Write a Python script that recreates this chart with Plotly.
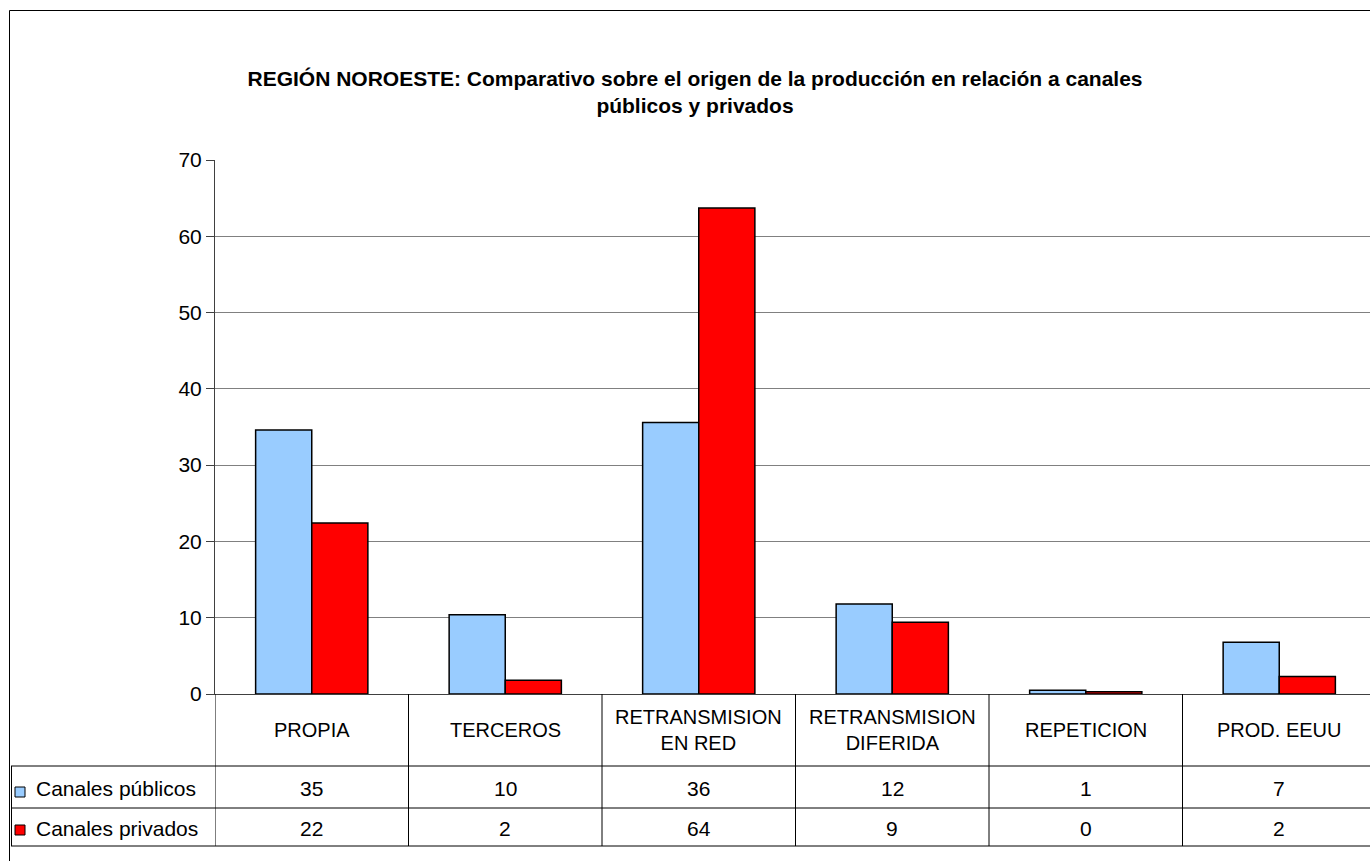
import plotly.graph_objects as go

# ---- data ----
categories = ["PROPIA", "TERCEROS", "RETRANSMISION<br>EN RED",
              "RETRANSMISION<br>DIFERIDA", "REPETICION", "PROD. EEUU"]
series_names = ["Canales públicos", "Canales privados"]
publicos = [34.6, 10.4, 35.6, 11.8, 0.5, 6.8]
privados = [22.4, 1.8, 63.7, 9.4, 0.3, 2.3]
tabla_publicos = ["35", "10", "36", "12", "1", "7"]
tabla_privados = ["22", "2", "64", "9", "0", "2"]
y_ticks = [0, 10, 20, 30, 40, 50, 60, 70]

title_text = ("<b>REGIÓN NOROESTE: Comparativo sobre el origen de la producción en relación a canales"
              "<br>públicos y privados</b>")

W, H = 1370, 861
L, R, T, B = 215, 0, 160, 167
plot_w = W - L - R
plot_h = H - T - B
cat_w = 193.5  # px per category

def xp(px):
    return (px - L) / plot_w

def yp(py):
    return (H - B - py) / plot_h

FONT = "Liberation Sans, Arial, sans-serif"
BLUE = "#99CCFF"
RED = "#FF0000"
LINE = "#000000"

fig = go.Figure()
fig.add_trace(go.Bar(x=categories, y=publicos, name=series_names[0],
                     marker=dict(color=BLUE, line=dict(color=LINE, width=1.5))))
fig.add_trace(go.Bar(x=categories, y=privados, name=series_names[1],
                     marker=dict(color=RED, line=dict(color=LINE, width=1.5))))

n = len(categories)
x_end = -0.5 + plot_w / cat_w

shapes = []
# chart border
shapes.append(dict(type="rect", xref="paper", yref="paper",
                   x0=xp(9.5), x1=xp(1400), y0=yp(10.5), y1=yp(900),
                   line=dict(color=LINE, width=1), layer="below"))
# table horizontal lines
for py in [766, 808, 846]:
    shapes.append(dict(type="line", xref="paper", yref="paper",
                       x0=xp(11), x1=xp(1400), y0=yp(py), y1=yp(py),
                       line=dict(color=LINE, width=1)))
# table left border
shapes.append(dict(type="line", xref="paper", yref="paper",
                   x0=xp(11.5), x1=xp(11.5), y0=yp(766), y1=yp(846),
                   line=dict(color=LINE, width=1)))
# category dividers
for i in range(n + 1):
    shapes.append(dict(type="line", xref="x", yref="paper",
                       x0=i - 0.5, x1=i - 0.5, y0=yp(694), y1=yp(846),
                       line=dict(color=LINE, width=1)))
# legend keys
for (py0, py1, col) in [(787, 797, BLUE), (825, 835, RED)]:
    shapes.append(dict(type="rect", xref="paper", yref="paper",
                       x0=xp(15), x1=xp(25), y0=yp(py1), y1=yp(py0),
                       fillcolor=col, line=dict(color=LINE, width=1)))

annotations = []
for i, c in enumerate(categories):
    annotations.append(dict(x=c, xref="x", y=yp(730), yref="paper",
                            text=c, showarrow=False, xanchor="center", yanchor="middle",
                            font=dict(family=FONT, size=20, color="#000000")))
    annotations.append(dict(x=c, xref="x", y=yp(788), yref="paper",
                            text=tabla_publicos[i], showarrow=False, xanchor="center",
                            yanchor="middle", font=dict(family=FONT, size=21, color="#000000")))
    annotations.append(dict(x=c, xref="x", y=yp(828), yref="paper",
                            text=tabla_privados[i], showarrow=False, xanchor="center",
                            yanchor="middle", font=dict(family=FONT, size=21, color="#000000")))
for name, py in zip(series_names, [788, 828]):
    annotations.append(dict(x=xp(34), xref="paper", y=yp(py), yref="paper",
                            text=name, showarrow=False, xanchor="left", yanchor="middle",
                            font=dict(family=FONT, size=21, color="#000000")))

fig.update_layout(
    width=W, height=H,
    margin=dict(l=L, r=R, t=T, b=B, autoexpand=False),
    paper_bgcolor="white", plot_bgcolor="white",
    showlegend=False,
    barmode="group", bargap=0.42, bargroupgap=0,
    title=dict(text=title_text, x=(695 - L) / plot_w, xref="paper", xanchor="center",
               y=1 - 86 / H, yref="container", yanchor="middle",
               font=dict(family=FONT, size=21, color="#000000")),
    font=dict(family=FONT, size=21, color="#000000"),
    xaxis=dict(range=[-0.5, x_end], showticklabels=False, ticks="",
               showgrid=False, zeroline=False, showline=True,
               linecolor="#404040", linewidth=1, fixedrange=True),
    yaxis=dict(range=[0, 70], tickvals=y_ticks, showgrid=True, gridcolor="#808080",
               gridwidth=1, zeroline=False, showline=True, linecolor="#404040",
               linewidth=1, ticks="outside", ticklen=8, tickcolor="#404040",
               tickfont=dict(family=FONT, size=21, color="#000000")),
    shapes=shapes,
    annotations=annotations,
)

fig.write_html("out.html", config={"displayModeBar": False},
               post_script="document.body.style.margin='0';document.body.style.overflow='hidden';")
